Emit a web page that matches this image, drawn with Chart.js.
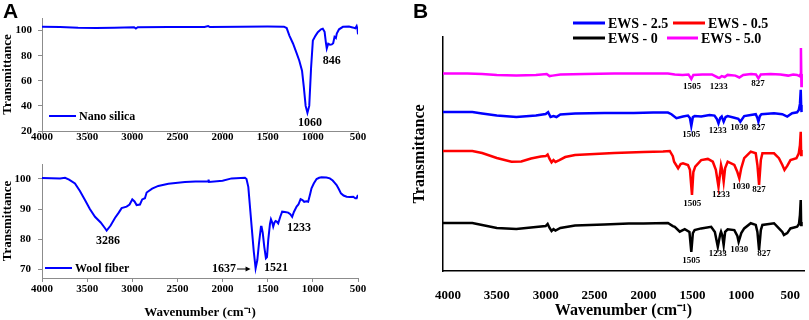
<!DOCTYPE html>
<html>
<head>
<meta charset="utf-8">
<script src="https://cdn.jsdelivr.net/npm/chart.js@4.4.1/dist/chart.umd.min.js"></script>
<style>
  body { margin: 0; background: #fff; }
  #page { position: relative; width: 809px; height: 320px; overflow: hidden; }
  canvas { position: absolute; }
  .tag { position: absolute; font: bold 21px "Liberation Sans", Arial, sans-serif; color: #000; }
</style>
</head>
<body>
<div id="page">
  <canvas id="silica" width="410" height="150" style="left:0;top:0"></canvas>
  <canvas id="wool" width="410" height="170" style="left:0;top:150px"></canvas>
  <canvas id="ews" width="399" height="320" style="left:410px;top:0"></canvas>
  <div class="tag" style="left:3px;top:-1px">A</div>
  <div class="tag" style="left:413px;top:-1px">B</div>
</div>
<script>
// panel A, top: nano silica
const nanoWn = [4000, 3800, 3600, 3400, 3200, 2980, 2960, 2940, 2600, 2200, 2160, 2140, 1800, 1500, 1320, 1290, 1260, 1220, 1180, 1150, 1120, 1100, 1080, 1060, 1040, 1020, 1000, 970, 945, 910, 890, 870, 855, 846, 830, 810, 790, 775, 760, 745, 735, 710, 667, 600, 560, 530, 515, 505, 500];
const nanoT = [103, 102.8, 102.2, 102, 102.2, 102.6, 101.6, 102.6, 102.8, 102.9, 103.6, 102.8, 103, 103.2, 103.1, 102, 96, 89.7, 82, 76, 68, 55, 40, 34.5, 40, 70, 92, 96, 98.7, 101, 101.5, 99, 90, 85.7, 89.5, 88.8, 89, 90, 95, 94, 97.6, 101, 103, 103.2, 102.5, 101.8, 103.6, 101, 97];

// panel A, bottom: wool fiber
const woolWn = [4000, 3800, 3745, 3700, 3635, 3580, 3524, 3470, 3413, 3350, 3300, 3284, 3240, 3192, 3150, 3118, 3063, 3030, 3000, 2975, 2952, 2915, 2890, 2860, 2841, 2780, 2712, 2600, 2417, 2300, 2160, 2155, 2150, 2000, 1900, 1752, 1735, 1715, 1700, 1678, 1655, 1634, 1615, 1597, 1575, 1568, 1555, 1538, 1520, 1508, 1494, 1475, 1464, 1450, 1439, 1425, 1413, 1400, 1384, 1360, 1340, 1310, 1273, 1250, 1229, 1210, 1180, 1160, 1136, 1115, 1096, 1070, 1052, 1030, 1015, 990, 959, 930, 904, 850, 812, 780, 760, 737, 710, 689, 660, 626, 590, 553, 530, 515, 505, 500];
const woolT = [100.3, 100.2, 100.4, 99.8, 98.5, 96, 93, 90, 87.4, 85.5, 83.5, 82.8, 84.5, 87, 88.8, 90.3, 90.8, 91.5, 93.2, 92.5, 91.3, 91.5, 93.2, 93.6, 95.5, 96.8, 97.7, 98.4, 99, 99.2, 99.2, 99.8, 99, 99.4, 100.2, 100.4, 100, 97.4, 92, 84.1, 76, 70.2, 73, 78.5, 84.1, 84.1, 82, 77.4, 73.6, 74, 79.7, 85, 86.6, 85.5, 84.1, 85.5, 86, 85.8, 85.2, 87.5, 89.1, 89, 88.8, 88.3, 87.4, 89, 90.8, 91.5, 93.3, 93, 92.4, 92.6, 92.4, 95, 96.9, 98.5, 100, 100.4, 100.6, 100.5, 100.2, 99.5, 98.8, 98, 96.5, 95.2, 94.5, 94.1, 94, 94.1, 93.6, 93.6, 94.4, 94.7];

// panel B: stacked spectra (offset, arbitrary units)
const ews50Wn = [4050, 3800, 3650, 3500, 3300, 3100, 2990, 2960, 2930, 2850, 2600, 2300, 2000, 1750, 1680, 1600, 1540, 1511, 1490, 1400, 1300, 1240, 1223, 1200, 1170, 1140, 1060, 1020, 980, 900, 850, 825, 800, 700, 600, 520, 470, 430, 405, 396, 390, 385, 382];
const ews50T = [84.4, 84.4, 84.2, 83.8, 83.5, 83.8, 84.2, 83.3, 83.5, 84, 84.2, 84.4, 84.4, 84.4, 84, 83.8, 84, 82.1, 83.8, 84, 84, 82.7, 82.5, 83.3, 82.9, 83.8, 83.5, 82.7, 83.8, 84.2, 84, 82.3, 84, 84.2, 84, 83.5, 84, 83.8, 83.3, 84, 95.3, 79.1, 84.2];

const ews25Wn = [4050, 3750, 3650, 3500, 3300, 3100, 3000, 2975, 2950, 2920, 2890, 2850, 2700, 2400, 2100, 1900, 1750, 1714, 1663, 1596, 1545, 1525, 1511, 1495, 1477, 1410, 1325, 1274, 1250, 1233, 1215, 1200, 1180, 1160, 1139, 1071, 1030, 1010, 970, 903, 852, 835, 825, 810, 794, 665, 581, 530, 480, 429, 412, 400, 392, 388, 384];
const ews25T = [67.9, 67.9, 67.3, 66.5, 65.8, 66.5, 67.1, 67.9, 65.8, 66.2, 65.8, 66.9, 67.3, 67.5, 67.5, 67.7, 67.7, 67, 65.3, 66, 66.4, 65.4, 62, 65.8, 66.2, 66, 66.7, 66.4, 65, 63.1, 65.4, 66, 63.8, 65.8, 66.2, 65.5, 65, 63.8, 66.2, 66.7, 67, 65.4, 63.8, 66.2, 67, 67.4, 67, 66, 67.4, 67.8, 68.8, 71.4, 77.4, 70.9, 67.9];

const ews05Wn = [4050, 3750, 3650, 3500, 3350, 3250, 3150, 3050, 3000, 2980, 2960, 2940, 2920, 2900, 2860, 2800, 2700, 2500, 2300, 2150, 2000, 1800, 1731, 1700, 1687, 1646, 1620, 1596, 1545, 1525, 1504, 1490, 1471, 1410, 1342, 1291, 1260, 1233, 1215, 1207, 1195, 1180, 1165, 1139, 1071, 1040, 1020, 1000, 970, 903, 852, 835, 818, 800, 784, 665, 615, 580, 558, 530, 497, 436, 412, 400, 392, 388, 384];
const ews05T = [51.3, 51.3, 50.4, 48.3, 46.7, 46.8, 48.1, 48.9, 49.1, 49.8, 47.9, 46.4, 47.4, 46.6, 47.4, 48.7, 49.6, 50, 50.4, 50.6, 50.9, 51.1, 51.3, 49.1, 46.7, 43.9, 45.7, 46, 45.3, 43.2, 32.5, 42.3, 44.6, 47.4, 47.9, 46.7, 43.2, 36, 42.3, 45.3, 43.2, 38.2, 44, 46.7, 45.3, 42.3, 39.6, 44, 48.2, 51, 50.3, 45.3, 36.8, 47.4, 50.3, 50.3, 48.2, 45.3, 43.2, 44.9, 47.4, 48.2, 50.3, 53.8, 59.5, 49.6, 51.7];

const ews0Wn = [4050, 3750, 3650, 3500, 3300, 3100, 3000, 2980, 2960, 2940, 2920, 2900, 2850, 2700, 2400, 2150, 2000, 1750, 1700, 1680, 1629, 1578, 1530, 1511, 1495, 1477, 1410, 1308, 1270, 1240, 1215, 1207, 1195, 1180, 1165, 1139, 1071, 1040, 1027, 1000, 970, 903, 852, 835, 818, 800, 784, 665, 615, 580, 564, 530, 497, 429, 410, 400, 392, 388, 384];
const ews0T = [20.5, 20.5, 19.7, 18.4, 17.9, 18.8, 19.2, 20.1, 18.4, 17.1, 17.9, 17.3, 18.4, 19.4, 19.9, 20.3, 20.3, 20.5, 19.2, 18.9, 16.8, 17.9, 16.7, 8.2, 16.2, 17.5, 18.2, 18.9, 16.7, 10.4, 15.8, 16.8, 15.4, 11.1, 16.7, 17.8, 17.5, 15, 12.5, 16.2, 18.2, 20.4, 19.7, 16.7, 9, 17.5, 19.7, 20.4, 18.2, 16.7, 15.4, 16.2, 18.2, 18.9, 20.1, 23.9, 30.3, 19.7, 20.9];

// peak labels: [wavenumber, value, text]
const nanoPeaks = [[1032, 26.6, '1060'], [791, 75.8, '846']];
const woolPeaks = [[3269, 79.4, '3286'], [1984, 70, '1637'], [1408, 70.3, '1521'], [1154, 83.7, '1233']];
const ewsPeaks = [
  [1504, 78.8, '1505'], [1230, 78.6, '1233'], [828, 79.9, '827'],
  [1511, 58.4, '1505'], [1241, 59.8, '1233'], [1020, 61.2, '1030'], [825, 61.2, '827'],
  [1501, 28.9, '1505'], [1207, 32.8, '1233'], [1004, 36.0, '1030'], [818, 34.6, '827'],
  [1511, 4.4, '1505'], [1241, 7.3, '1233'], [1020, 9.3, '1030'], [767, 7.6, '827']
];
const xTicksA = [4000, 3500, 3000, 2500, 2000, 1500, 1000, 500];
const xTicksB = [4000, 3500, 3000, 2500, 2000, 1500, 1000, 500];

const serif = '"Liberation Serif", "Times New Roman", serif';
const pts = (wn, t) => wn.map((w, i) => ({ x: w, y: t[i] }));
const fixTicks = list => axis => { axis.ticks = list.map(v => ({ value: v })); };
const plain = v => String(v);

const notes = {
  id: 'notes',
  afterDatasetsDraw(chart, args, opts) {
    const { ctx } = chart;
    const x = chart.scales.x, y = chart.scales.y;
    ctx.save();
    ctx.fillStyle = '#000';
    ctx.font = opts.font;
    ctx.textAlign = 'center';
    ctx.textBaseline = 'middle';
    (opts.labels || []).forEach(([w, v, t]) => {
      ctx.fillText(t, x.getPixelForValue(w), y.getPixelForValue(v));
    });
    if (opts.arrow) {
      const [w1, w2, v] = opts.arrow;
      const x1 = x.getPixelForValue(w1), x2 = x.getPixelForValue(w2), yy = y.getPixelForValue(v);
      ctx.strokeStyle = '#000';
      ctx.lineWidth = 1;
      ctx.beginPath(); ctx.moveTo(x1, yy); ctx.lineTo(x2 - 3, yy); ctx.stroke();
      ctx.beginPath(); ctx.moveTo(x2, yy); ctx.lineTo(x2 - 5, yy - 2.5); ctx.lineTo(x2 - 5, yy + 2.5); ctx.closePath(); ctx.fill();
    }
    ctx.textAlign = 'left';
    (opts.legend || []).forEach(item => {
      ctx.strokeStyle = item.color;
      ctx.lineWidth = item.width;
      ctx.beginPath(); ctx.moveTo(item.x0, item.y); ctx.lineTo(item.x1, item.y); ctx.stroke();
      ctx.font = item.font;
      ctx.fillText(item.text, item.x1 + 3, item.y + 1);
    });
    ctx.restore();
  }
};

function panelA(id, wn, t, opt) {
  return new Chart(document.getElementById(id), {
    type: 'line',
    data: { datasets: [{ data: pts(wn, t), borderColor: '#0000ff', borderWidth: 2, pointRadius: 0, tension: 0 }] },
    options: {
      responsive: false,
      animation: false,
      events: [],
      layout: { padding: { top: opt.top, right: 52, bottom: 0, left: 0 } },
      plugins: {
        legend: { display: false },
        tooltip: { enabled: false },
        notes: {
          font: 'bold 12px ' + serif,
          labels: opt.peaks,
          arrow: opt.arrow,
          legend: [{ text: opt.name, color: '#0000ff', width: 2, x0: opt.legX, x1: opt.legX + 27, y: opt.legY, font: 'bold 12px ' + serif }]
        }
      },
      scales: {
        x: {
          type: 'linear', reverse: true, min: 500, max: 4000,
          afterBuildTicks: fixTicks(xTicksA),
          afterFit: s => { s.height = opt.xh; },
          grid: { drawOnChartArea: false, tickLength: opt.xtl, color: '#8c8c8c' },
          border: { color: '#8c8c8c' },
          ticks: { color: '#000', padding: opt.xpad, maxRotation: 0, callback: plain, font: { family: serif, size: 11, weight: 'bold' } },
          title: { display: !!opt.xTitle, text: opt.xTitle, color: '#000', padding: 0, font: { family: serif, size: 13, weight: 'bold' } }
        },
        y: {
          min: opt.ymin, max: opt.ymax,
          afterBuildTicks: fixTicks(opt.yTicks),
          afterFit: s => { s.width = 42; },
          grid: { drawOnChartArea: false, tickLength: 4, color: '#8c8c8c' },
          border: { color: '#8c8c8c' },
          ticks: { color: '#000', padding: opt.ypad, callback: plain, font: { family: serif, size: 11, weight: 'bold' } },
          title: { display: true, text: 'Transmittance', color: '#000', padding: 0, font: { family: serif, size: 13, weight: 'bold' } }
        }
      }
    },
    plugins: [notes]
  });
}

panelA('silica', nanoWn, nanoT, {
  top: 18, xh: 19, xtl: 3, xpad: -3, ypad: 6, ymin: 20, ymax: 110, yTicks: [20, 40, 60, 80, 100],
  peaks: nanoPeaks, name: 'Nano silica', legX: 49, legY: 116
});
panelA('wool', woolWn, woolT, {
  top: 14, xh: 42, xtl: 4, xpad: 1, ypad: 7, ymin: 67, ymax: 105, yTicks: [70, 80, 90, 100],
  peaks: woolPeaks, arrow: [1840, 1690, 70], name: 'Wool fiber', legX: 45, legY: 118,
  xTitle: 'Wavenumber (cm\u207B\u00B9)'
});

const ewsSeries = [
  { label: 'EWS - 2.5', wn: ews25Wn, t: ews25T, color: '#0000ff' },
  { label: 'EWS - 0.5', wn: ews05Wn, t: ews05T, color: '#ff0000' },
  { label: 'EWS - 0', wn: ews0Wn, t: ews0T, color: '#000000' },
  { label: 'EWS - 5.0', wn: ews50Wn, t: ews50T, color: '#ff00ff' }
];
const legFont = 'bold 14px ' + serif;

new Chart(document.getElementById('ews'), {
  type: 'line',
  data: {
    datasets: ewsSeries.map(s => ({
      label: s.label, data: pts(s.wn, s.t), borderColor: s.color, borderWidth: 2.5, pointRadius: 0, tension: 0
    }))
  },
  options: {
    responsive: false,
    animation: false,
    events: [],
    layout: { padding: { top: 37, right: 2, bottom: 0, left: 0 } },
    plugins: {
      legend: { display: false },
      tooltip: { enabled: false },
      notes: {
        font: 'bold 9px ' + serif,
        labels: ewsPeaks,
        legend: [
          { text: ewsSeries[0].label, color: ewsSeries[0].color, width: 3, x0: 163, x1: 195, y: 23, font: legFont },
          { text: ewsSeries[1].label, color: ewsSeries[1].color, width: 3, x0: 263, x1: 295, y: 23, font: legFont },
          { text: ewsSeries[2].label, color: ewsSeries[2].color, width: 3, x0: 163, x1: 195, y: 38, font: legFont },
          { text: ewsSeries[3].label, color: ewsSeries[3].color, width: 3, x0: 257, x1: 288, y: 38, font: legFont }
        ]
      }
    },
    scales: {
      x: {
        type: 'linear', reverse: true, min: 358, max: 4050,
        afterBuildTicks: fixTicks(xTicksB),
        afterFit: s => { s.height = 49; },
        grid: { display: false },
        border: { color: '#000', width: 1.5 },
        ticks: { color: '#000', padding: 9, maxRotation: 0, callback: plain, font: { family: serif, size: 13, weight: 'bold' } },
        title: { display: true, text: 'Wavenumber (cm\u207B\u00B9)', color: '#000', padding: 0, font: { family: serif, size: 16, weight: 'bold' } }
      },
      y: {
        min: 0, max: 100,
        afterFit: s => { s.width = 33; },
        grid: { display: false },
        border: { color: '#000', width: 1.5 },
        ticks: { display: false },
        title: { display: true, text: 'Transmittance', color: '#000', padding: 0, font: { family: serif, size: 16, weight: 'bold' } }
      }
    }
  },
  plugins: [notes]
});
</script>
</body>
</html>
